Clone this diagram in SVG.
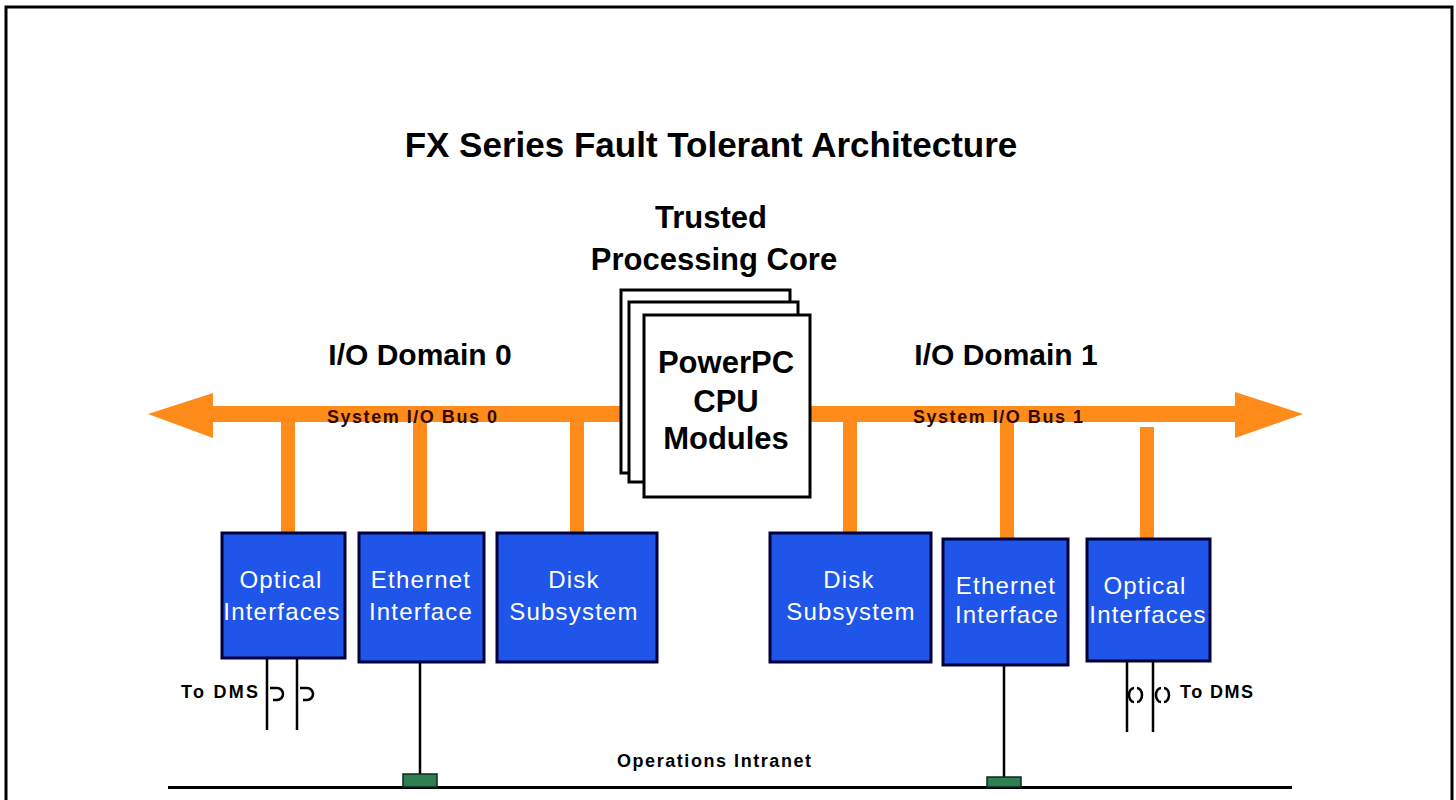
<svg xmlns="http://www.w3.org/2000/svg" width="1456" height="800" viewBox="0 0 1456 800">
<style>
.frame{fill:none;stroke:#000;stroke-width:3}
.bus{fill:#ff8c1a}
.blk{fill:none;stroke:#000;stroke-width:2.5}
.box{fill:#1f55e8;stroke:#00003a;stroke-width:3}
.cpu{fill:#fff;stroke:#000;stroke-width:3}
.head{font-family:"Liberation Sans",Arial,sans-serif;font-weight:bold;fill:#000;text-anchor:middle}
.bt{font-family:"Liberation Sans",Arial,sans-serif;font-size:24px;fill:#fff;text-anchor:middle;letter-spacing:1.2px}
.sm{font-family:"Liberation Sans",Arial,sans-serif;font-size:18px;font-weight:bold;fill:#000}
.bl{font-family:"Liberation Sans",Arial,sans-serif;font-size:18px;font-weight:bold;fill:#300800}
.nic{fill:#2f8050;stroke:#0a2a18;stroke-width:1.5}
</style>
<rect fill="#fff" x="0" y="0" width="1456" height="800"/>
<rect class="frame" x="6" y="7" width="1446" height="900"/>

<text class="head" x="711" y="157" font-size="35">FX Series Fault Tolerant Architecture</text>
<text class="head" x="711" y="228" font-size="31">Trusted</text>
<text class="head" x="714" y="270" font-size="31">Processing Core</text>
<text class="head" x="420" y="365" font-size="30">I/O Domain 0</text>
<text class="head" x="1006" y="365" font-size="30">I/O Domain 1</text>

<g id="connectors">
  <polygon class="bus" points="148,414 213,393 213,406 1235,406 1235,392 1303,414 1235,438 1235,422 213,422 213,438"/>
  <rect class="bus" x="281" y="420" width="14" height="114"/>
  <rect class="bus" x="413" y="420" width="14" height="114"/>
  <rect class="bus" x="570" y="420" width="14" height="114"/>
  <rect class="bus" x="843" y="420" width="14" height="114"/>
  <rect class="bus" x="1000" y="420" width="14" height="120"/>
  <rect class="bus" x="1140" y="427" width="14" height="113"/>
  <line class="blk" stroke-width="3" x1="267" y1="658" x2="267" y2="730"/>
  <line class="blk" stroke-width="3" x1="297" y1="658" x2="297" y2="730"/>
  <line class="blk" stroke-width="3" x1="1127" y1="661" x2="1127" y2="732"/>
  <line class="blk" stroke-width="3" x1="1153" y1="661" x2="1153" y2="732"/>
  <line class="blk" stroke-width="2" x1="420" y1="662" x2="420" y2="775"/>
  <line class="blk" stroke-width="2" x1="1004" y1="665" x2="1004" y2="778"/>
  <line x1="168" y1="787.5" x2="1292" y2="787.5" stroke="#000" stroke-width="3"/>
  <path class="blk" stroke-width="2" d="M270,688 h7 a6,6 0 0 1 0,12 h-4 M300,688 h7 a6,6 0 0 1 0,12 h-4"/>
  <path class="blk" stroke-width="2" d="M1134,688 a5,7 0 0 0 0,14 M1137,688 a5,7 0 0 1 0,14 M1161,688 a5,7 0 0 0 0,14 M1164,688 a5,7 0 0 1 0,14"/>
</g>

<text class="bl" x="327" y="423" textLength="170" lengthAdjust="spacing">System I/O Bus 0</text>
<text class="bl" x="913" y="423" textLength="170" lengthAdjust="spacing">System I/O Bus 1</text>

<g id="cpu">
  <rect class="cpu" x="621" y="290" width="169" height="183"/>
  <rect class="cpu" x="629" y="302" width="169" height="180"/>
  <rect class="cpu" x="644" y="315" width="166" height="182"/>
  <text class="head" x="726" y="373" font-size="31">PowerPC</text>
  <text class="head" x="726" y="412" font-size="31">CPU</text>
  <text class="head" x="726" y="449" font-size="31">Modules</text>
</g>

<g id="optical0">
  <rect class="box" x="222" y="533" width="123" height="125"/>
  <text class="bt" x="281" y="588">Optical</text>
  <text class="bt" x="282" y="620">Interfaces</text>
</g>
<g id="ethernet0">
  <rect class="box" x="359" y="533" width="125" height="129"/>
  <text class="bt" x="421" y="588">Ethernet</text>
  <text class="bt" x="421" y="620">Interface</text>
</g>
<g id="disk0">
  <rect class="box" x="497" y="533" width="160" height="129"/>
  <text class="bt" x="574" y="588">Disk</text>
  <text class="bt" x="574" y="620">Subsystem</text>
</g>
<g id="disk1">
  <rect class="box" x="770" y="533" width="161" height="129"/>
  <text class="bt" x="849" y="588">Disk</text>
  <text class="bt" x="851" y="620">Subsystem</text>
</g>
<g id="ethernet1">
  <rect class="box" x="943" y="539" width="125" height="126"/>
  <text class="bt" x="1006" y="594">Ethernet</text>
  <text class="bt" x="1007" y="623">Interface</text>
</g>
<g id="optical1">
  <rect class="box" x="1087" y="539" width="123" height="122"/>
  <text class="bt" x="1145" y="594">Optical</text>
  <text class="bt" x="1148" y="623">Interfaces</text>
</g>

<g id="dms0"><text class="sm" x="181" y="698" font-size="16" textLength="77" lengthAdjust="spacing">To DMS</text></g>
<g id="dms1"><text class="sm" x="1180" y="698" font-size="16" textLength="73" lengthAdjust="spacing">To DMS</text></g>

<g id="intranet">
  <text class="sm" x="617" y="767" textLength="194" lengthAdjust="spacing">Operations Intranet</text>
  <rect class="nic" x="403" y="774" width="34" height="13"/>
  <rect class="nic" x="987" y="777" width="34" height="10"/>
</g>
</svg>
